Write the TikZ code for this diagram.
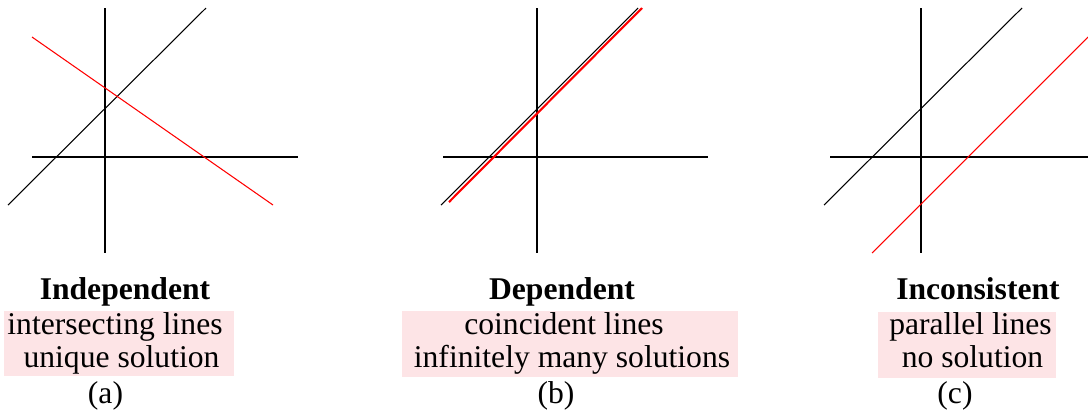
\documentclass[tikz,border=0pt]{standalone}
\usepackage{fontspec}
\setmainfont{Liberation Serif}
\usetikzlibrary{positioning}
\definecolor{hilite}{RGB}{253,228,230}

\begin{document}
\begin{tikzpicture}[x=0.02cm, y=-0.02cm,
    axis/.style={black, line width=1.1pt},
    graph/.style={line width=0.6pt},
    heading/.style={font=\fontsize{18}{20}\selectfont\bfseries, anchor=base, inner sep=0pt},
    caption/.style={font=\fontsize{18}{20}\selectfont, anchor=base, inner sep=0pt}]
        \useasboundingbox (0,0) rectangle (1088,414);

        % (a) two lines crossing once
        \draw[axis] (105,8) -- (105,253);
        \draw[axis] (32,157) -- (298,157);
        \draw[graph] (8,205) -- (206,8);
        \draw[graph, red] (32,37) -- (273,205);

        \fill[hilite] (4,311) rectangle (234,376);
        \node[heading] (headA) at (125,299) {Independent};
        \node[caption] (kindA) at (115,334) {intersecting lines};
        \node[caption] (solA) at (121.5,367) {unique solution};
        \node[caption] (tagA) at (105.5,403) {(a)};

        % (b) the same line drawn twice
        \draw[axis] (537,8) -- (537,253);
        \draw[axis] (443,157) -- (708,157);
        \draw[graph] (441,205) -- (638,8);
        \draw[red, line width=1.2pt] (449,202) -- (642,8);

        \fill[hilite] (402,311) rectangle (738,377);
        \node[heading] (headB) at (562,299) {Dependent};
        \node[caption] (kindB) at (564,334) {coincident lines};
        \node[caption] (solB) at (572,367) {infinitely many solutions};
        \node[caption] (tagB) at (556,403) {(b)};

        % (c) two lines that never meet
        \draw[axis] (921,8) -- (921,253);
        \draw[axis] (830,157) -- (1088,157);
        \draw[graph] (824,205) -- (1022,8);
        \draw[graph, red] (872,253) -- (1088,37);

        \fill[hilite] (878,312) rectangle (1056,378);
        \node[heading] (headC) at (978,299) {Inconsistent};
        \node[caption] (kindC) at (970.5,334) {parallel lines};
        \node[caption] (solC) at (972.5,367) {no solution};
        \node[caption] (tagC) at (955,403) {(c)};
\end{tikzpicture}
\end{document}
